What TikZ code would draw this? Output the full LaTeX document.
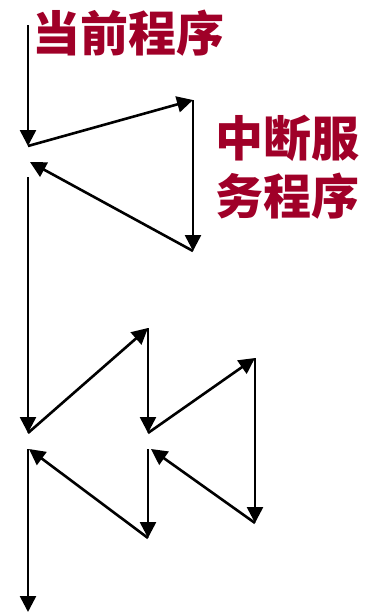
\documentclass[tikz,border=0pt]{standalone}
\usepackage{fontspec}
\newfontfamily\cjk{Noto Sans CJK SC}
\usetikzlibrary{arrows.meta}
\definecolor{titlered}{RGB}{160,0,40}
\tikzset{
    flow/.style={line width=2.6pt,-{Triangle[length=16pt,width=16pt]}},
    label/.style={text=titlered,font=\cjk\bfseries\fontsize{48}{58}\selectfont,inner sep=0pt,align=left}
}
\begin{document}
\begin{tikzpicture}[x=1pt,y=-1pt]
        % Draw page frame
        \useasboundingbox (0,0) rectangle (368,613);
        % Draw program points
        \coordinate (start) at (28,25);
        \coordinate (irqa) at (28,146);
        \coordinate (isrtop) at (193,100);
        \coordinate (isrend) at (193,251);
        \coordinate (reta) at (30,162);
        \coordinate (resumea) at (28,177);
        \coordinate (irqb) at (28,433);
        \coordinate (lowtop) at (148,328);
        \coordinate (irqc) at (148,433);
        \coordinate (hightop) at (255,358);
        \coordinate (highend) at (255,523);
        \coordinate (retc) at (151,449);
        \coordinate (resumec) at (148,449);
        \coordinate (lowend) at (148,538);
        \coordinate (retb) at (29,449);
        \coordinate (resumeb) at (28,449);
        \coordinate (finish) at (28,612);
        % Draw labels
        \node[label] (main) at (128,33) {当前程序};
        \node[label] (isr) at (287,167) {中断服\\务程序};
        % Draw first interrupt
        \draw[flow] (start) -- (irqa);
        \draw[flow] (irqa) -- (isrtop);
        \draw[flow] (isrtop) -- (isrend);
        \draw[flow] (isrend) -- (reta);
        % Draw nested interrupts
        \draw[flow] (resumea) -- (irqb);
        \draw[flow] (irqb) -- (lowtop);
        \draw[flow] (lowtop) -- (irqc);
        \draw[flow] (irqc) -- (hightop);
        \draw[flow] (hightop) -- (highend);
        \draw[flow] (highend) -- (retc);
        \draw[flow] (resumec) -- (lowend);
        \draw[flow] (lowend) -- (retb);
        \draw[flow] (resumeb) -- (finish);
    \end{tikzpicture}
\end{document}
